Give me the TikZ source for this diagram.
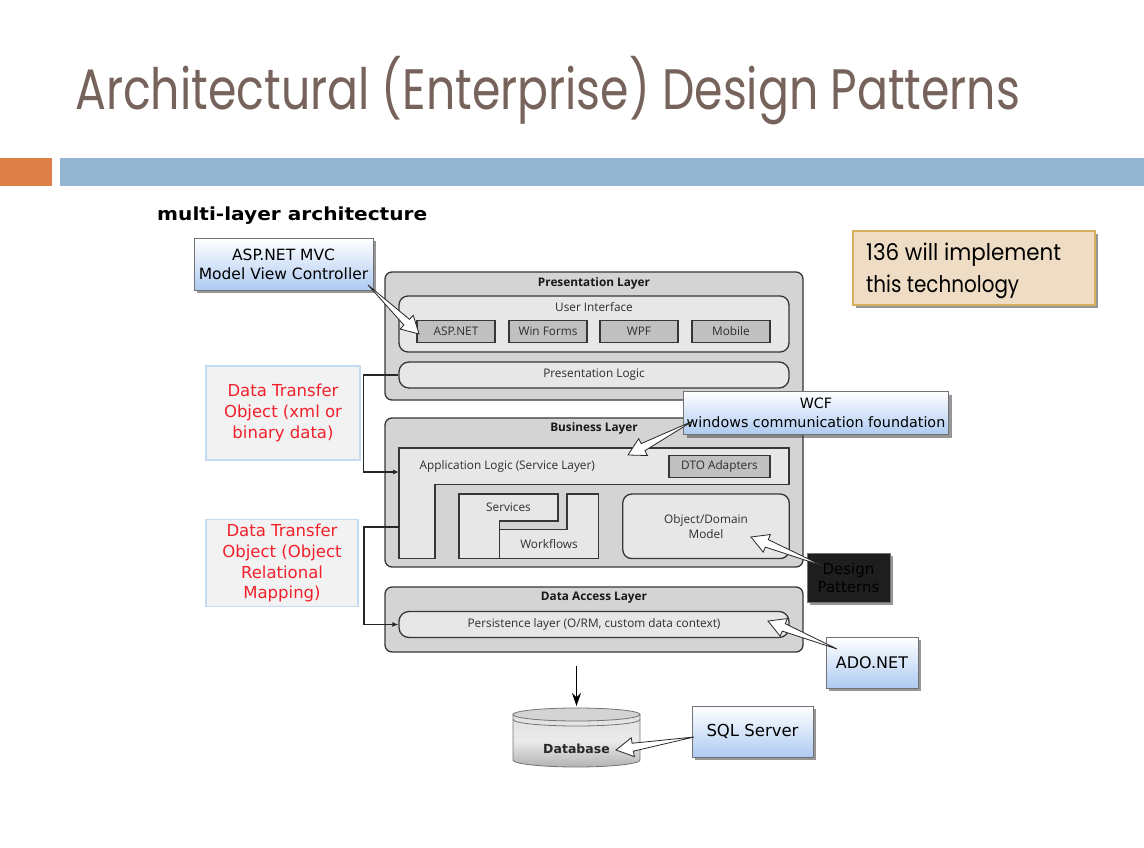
\documentclass[tikz,border=0pt]{standalone}
\usepackage{fontspec}
\setmainfont{Open Sans}
\newfontfamily\dejavu{DejaVu Sans}
\newfontfamily\poppins{Poppins}
\newfontfamily\opensans{Open Sans}
\usetikzlibrary{calc,shadows,arrows.meta}
\definecolor{titlebrown}{HTML}{76635B}
\definecolor{barorange}{HTML}{DD8047}
\definecolor{barblue}{HTML}{94B6D2}
\definecolor{layergray}{HTML}{D4D4D4}
\definecolor{innergray}{HTML}{E7E7E7}
\definecolor{subgray}{HTML}{C0C0C0}
\definecolor{edgegray}{HTML}{363636}
\definecolor{boxblue}{HTML}{AECBF2}
\definecolor{dtoborder}{HTML}{C5DBF4}
\definecolor{dtofill}{HTML}{F2F2F2}
\definecolor{dtored}{HTML}{F2202B}
\definecolor{notefill}{HTML}{EEDDC4}
\definecolor{noteborder}{HTML}{D7AE5C}
\definecolor{dpfill}{HTML}{1E1E1E}
\newcommand{\calloutarrow}[2]{%
  \coordinate (bahead) at ($(#2)!17pt!(#1)$);
  \draw[callout] (#1) -- ($(bahead)!4pt!90:(#2)$) -- ($(bahead)!9.5pt!90:(#2)$) -- (#2)
    -- ($(bahead)!9.5pt!-90:(#2)$) -- ($(bahead)!4pt!-90:(#2)$) -- cycle;}
\begin{document}
\begin{tikzpicture}[x=1pt,y=-1pt,
  seg/.style={font=\opensans\fontsize{11.8}{14}\selectfont, text=black!82, inner sep=0},
  segb/.style={font=\opensans\bfseries\fontsize{11.8}{14}\selectfont, text=black!90, inner sep=0},
  layer/.style={draw=edgegray, fill=layergray, line width=1.3pt, rounded corners=7pt, inner sep=0},
  innerbox/.style={draw=edgegray, fill=innergray, line width=1.3pt, rounded corners=9pt, inner sep=0},
  tech/.style={draw=edgegray, fill=subgray, line width=1.3pt, inner sep=0, minimum width=78pt, minimum height=22.5pt, seg},
  plain/.style={draw=edgegray, fill=innergray, line width=1.3pt, line join=miter},
  shadowed/.style={drop shadow={shadow xshift=3pt, shadow yshift=-3pt, opacity=0.55, fill=black!75}},
  bluebox/.style={draw=black!55, top color=white, bottom color=boxblue, line width=0.6pt, shadowed,
    align=center, inner sep=0, text=black},
  dtobox/.style={draw=dtoborder, fill=dtofill, line width=1.2pt, align=center, inner sep=0, text=dtored,
    font=\dejavu\fontsize{16.5}{20.6}\selectfont},
  callout/.style={draw=black!85, fill=white, line width=0.8pt, line join=miter},
  conn/.style={draw=black!85, line width=1.1pt, -{Latex[length=6pt,width=5pt]}}
]
\useasboundingbox (0,0) rectangle (1144,848);
% title and bars
\node[anchor=base west, inner sep=0, text=titlebrown] (title) at (75,110)
  {\resizebox{945pt}{\height}{\poppins\fontsize{57}{60}\selectfont Architectural (Enterprise) Design Patterns}};
\fill[barorange] (0,158) rectangle (52,186);
\fill[barblue] (60,158) rectangle (1144,186);
\node[anchor=base west, inner sep=0] (subtitle) at (157,221)
  {\resizebox{270pt}{\height}{\dejavu\bfseries\fontsize{18}{20}\selectfont multi-layer architecture}};

% note box
\node[draw=noteborder, fill=notefill, line width=1.5pt, shadowed, minimum width=242pt, minimum height=74pt, inner sep=0] (note) at (974,268) {};
\node[anchor=base west, inner sep=0] (note1) at (866,260)
  {\resizebox{195pt}{\height}{\poppins\fontsize{23}{26}\selectfont 136 will implement}};
\node[anchor=base west, inner sep=0] (note2) at (866,292)
  {\resizebox{153pt}{\height}{\poppins\fontsize{23}{26}\selectfont this technology}};

% presentation layer
\node[layer, minimum width=418pt, minimum height=128pt] (pres) at (594,336) {};
\node[segb] (presT) at (594,283) {Presentation Layer};
\node[innerbox, minimum width=390pt, minimum height=56pt] (ui) at (594,324) {};
\node[seg] (uiT) at (594,307.5) {User Interface};
\node[tech] (asp) at (456,331.5) {ASP.NET};
\node[tech] (winf) at (548,331.5) {Win Forms};
\node[tech] (wpf) at (639,331.5) {WPF};
\node[tech] (mob) at (731,331.5) {Mobile};
\node[innerbox, rounded corners=10pt, minimum width=390pt, minimum height=26pt, seg] (pl) at (594,375) {Presentation Logic};

% business layer
\node[layer, minimum width=418pt, minimum height=149pt] (bus) at (594,492.5) {};
\node[segb] (busT) at (594,428) {Business Layer};
\draw[plain] (399,448) -- (789,448) -- (789,484.5) -- (435,484.5) -- (435,558.5) -- (399,558.5) -- cycle;
\coordinate (alIn) at (399,472);
\coordinate (alOut) at (399,527);
\node[seg, anchor=west] (alT) at (419.5,466) {Application Logic (Service Layer)};
\node[tech, minimum width=101pt, minimum height=22pt] (dto) at (719.5,466.5) {DTO Adapters};
\draw[plain] (459,494) -- (558,494) -- (558,521) -- (499.5,521) -- (499.5,558.5) -- (459,558.5) -- cycle;
\draw[plain] (499.5,529.5) -- (567,529.5) -- (567,494) -- (598.5,494) -- (598.5,558.5) -- (499.5,558.5) -- cycle;
\node[seg] (servT) at (508.5,507.5) {Services};
\node[seg] (wfT) at (549,544) {Workflows};
\node[innerbox, rounded corners=9pt, minimum width=166.5pt, minimum height=64.5pt, align=center, seg,
  font=\opensans\fontsize{11.8}{15}\selectfont] (odm) at (706,526.3) {Object/Domain\\Model};

% data access layer
\node[layer, minimum width=418pt, minimum height=65pt] (dal) at (594,619.5) {};
\node[segb] (dalT) at (594,597.5) {Data Access Layer};
\node[innerbox, rounded corners=10pt, minimum width=390pt, minimum height=26pt, seg] (pers) at (594,624.5) {Persistence layer (O/RM, custom data context)};

% left connectors
\draw[conn] (pl.west) -- ++(-35,0) |- (alIn);
\draw[conn] (alOut) -- ++(-35,0) |- (pers.west);

% DTO callouts
\node[dtobox, minimum width=154pt, minimum height=94pt] (dto1) at (283,413) {Data Transfer\\Object (xml or\\binary data)};
\node[dtobox, minimum width=152pt, minimum height=87pt] (dto2) at (282,563.3) {Data Transfer\\Object (Object\\Relational\\Mapping)};

% database
\coordinate (dbTop) at (576.5,706);
\coordinate (dalBelow) at (576.5,666);
\shade[top color=black!12, bottom color=black!30, middle color=black!8] (513,714.5) -- (513,760) arc[start angle=180, end angle=360, x radius=63.5pt, y radius=7pt] -- (640,714.5) -- cycle;
\draw[black!55, line width=0.8pt] (513,714.5) -- (513,760) arc[start angle=180, end angle=360, x radius=63.5pt, y radius=7pt] -- (640,714.5);
\draw[black!55, line width=0.8pt] (513,719.5) arc[start angle=180, end angle=360, x radius=63.5pt, y radius=6.5pt];
\draw[black!55, fill=black!17, line width=0.8pt] (576.5,714.5) ellipse[x radius=63.5pt, y radius=6.5pt];
\node[inner sep=0, font=\dejavu\bfseries\fontsize{12.5}{14}\selectfont, text=black!85] (db) at (576.5,749) {Database};
\draw[black, line width=1.2pt, -{Stealth[length=13pt,width=9pt]}] (dalBelow) -- (dbTop);

% blue callout boxes
\node[bluebox, minimum width=179pt, minimum height=52pt, font=\dejavu\fontsize{15.5}{19}\selectfont] (mvc) at (283.5,264) {ASP.NET MVC\\Model View Controller};
\node[bluebox, minimum width=265pt, minimum height=43pt, font=\dejavu\fontsize{14.3}{18.5}\selectfont] (wcf) at (816,413) {WCF\\windows communication foundation};
\node[draw=black!55, fill=dpfill, line width=1pt, shadowed, minimum width=83pt, minimum height=49pt, align=center, inner sep=0,
  text=black, font=\dejavu\fontsize{15}{18}\selectfont] (dp) at (848.5,577.5) {Design\\Patterns};
\node[bluebox, minimum width=92pt, minimum height=51pt, font=\dejavu\fontsize{16}{19}\selectfont] (ado) at (872,662.5) {ADO.NET};
\node[bluebox, minimum width=121pt, minimum height=51pt, font=\dejavu\fontsize{16.5}{19}\selectfont] (sql) at (752.5,731.5) {SQL Server};

% callout arrows
\coordinate (mvcTail) at (368,285);
\coordinate (aspTip) at (419,334);
\coordinate (wcfTail) at (693,421);
\coordinate (alTip) at (628,455);
\coordinate (dpTail) at (823,566);
\coordinate (odmTip) at (751,537);
\coordinate (adoTail) at (837,649);
\coordinate (persTip) at (768,621);
\coordinate (sqlTail) at (694,737);
\coordinate (dbTip) at (616,750);
\calloutarrow{mvcTail}{aspTip}
\calloutarrow{wcfTail}{alTip}
\calloutarrow{dpTail}{odmTip}
\calloutarrow{adoTail}{persTip}
\calloutarrow{sqlTail}{dbTip}
\end{tikzpicture}
\end{document}
